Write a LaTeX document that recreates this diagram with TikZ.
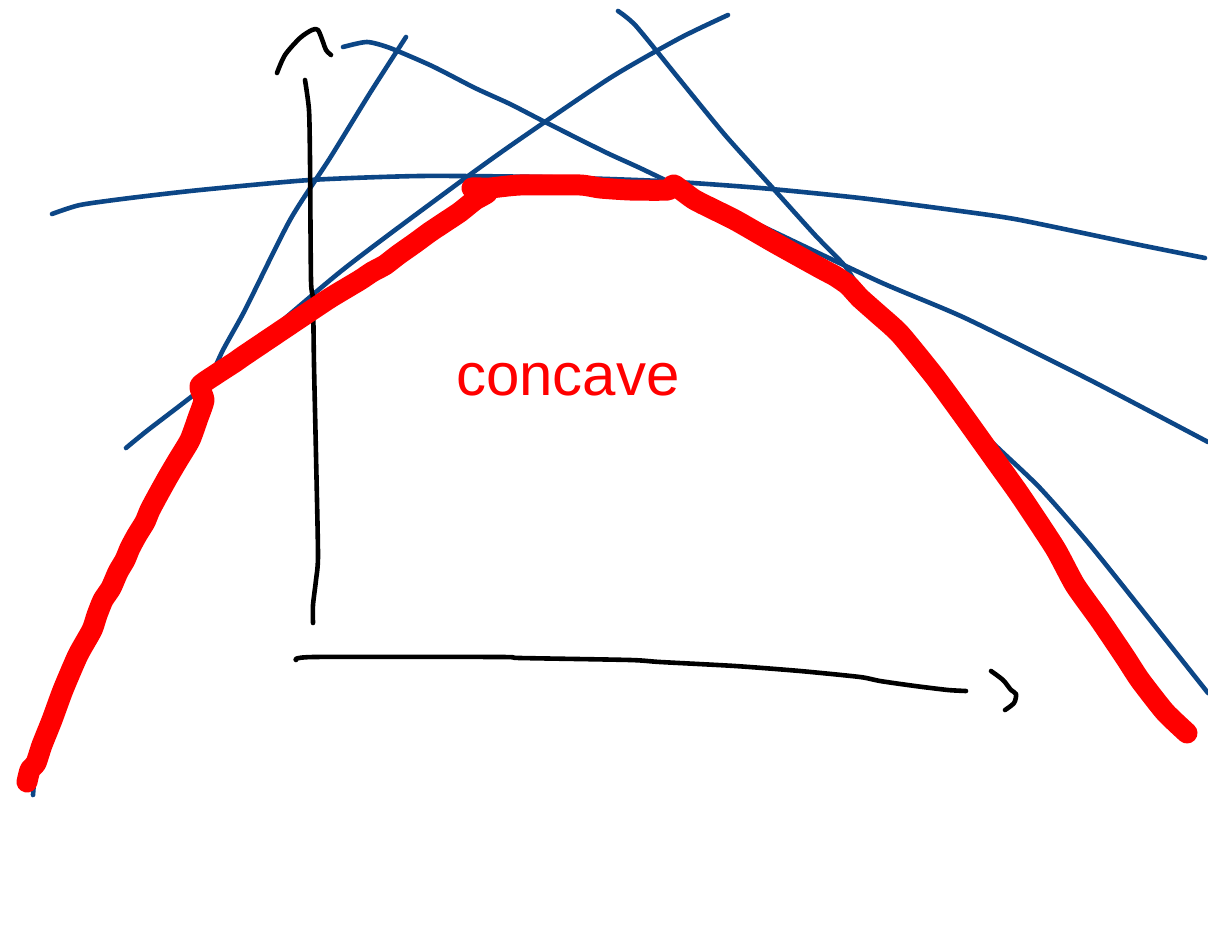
\documentclass[tikz,border=0pt]{standalone}
\usepackage{fontspec}
\setmainfont{Liberation Sans}
\definecolor{penblue}{RGB}{12,70,134}
\definecolor{penred}{RGB}{255,0,0}
\tikzset{
  bluestroke/.style={draw=penblue,line width=4.6pt,line cap=round,line join=round},
  blackstroke/.style={draw=black,line width=4.6pt,line cap=round,line join=round},
  redstroke/.style={draw=penred,line width=21pt,line cap=round,line join=round},
}
\begin{document}
\begin{tikzpicture}[x=1pt,y=-1pt]
\useasboundingbox[fill=white] (0,0) rectangle (1208,936);
% blue lines
\draw[bluestroke] plot[smooth,tension=0.4] coordinates {(406,37) (370,93) (330,158) (290,220) (245,310) (222,352) (205,392) (190,440) (168,477) (150,510) (137,535) (118,572) (103,600) (92,630) (78,655) (63,690) (45,740) (36,765) (33,795)};
\draw[bluestroke] plot[smooth,tension=0.4] coordinates {(126,448) (148,430) (215,378) (340,272) (445,193) (510,146) (610,78) (680,38) (728,15)};
\draw[bluestroke] plot[smooth,tension=0.4] coordinates {(343,47) (367,42) (390,48) (432,66) (475,88) (510,104) (545,122) (605,152) (640,168) (690,192) (770,230) (880,282) (965,318) (1090,380) (1208,442)};
\draw[bluestroke] plot[smooth,tension=0.4] coordinates {(52,214) (80,205) (130,198) (200,190) (310,180) (420,176) (540,177) (660,181) (760,188) (860,198) (960,211) (1020,220) (1140,245) (1205,258)};
\draw[bluestroke] plot[smooth,tension=0.4] coordinates {(618,11) (636,26) (680,80) (725,135) (770,185) (815,235) (845,266) (862,292) (900,334) (935,377) (963,414) (998,448) (1040,488) (1090,545) (1158,630) (1208,693)};
% axes
\draw[blackstroke] plot[smooth,tension=0.4] coordinates {(305,80) (309,110) (310,160) (311,280) (313,300) (314,365) (316,455) (318,555) (316,580) (313,605) (313,623)};
\draw[blackstroke] plot[smooth,tension=0.5] coordinates {(277,73) (285,55) (300,38) (312,30) (318,30) (323,42) (326,50) (331,55)};
\draw[blackstroke] plot[smooth,tension=0.4] coordinates {(296,660) (314,657) (500,657) (520,658) (630,660) (660,662) (735,666) (800,671) (860,677) (880,681) (915,686) (948,690) (966,691)};
\draw[blackstroke] plot[smooth,tension=0.5] coordinates {(991,671) (1003,680) (1011,690) (1016,694) (1014,703) (1005,710)};
% red concave curve
\draw[redstroke] plot[smooth,tension=0.35] coordinates {(27,782) (30,770) (36,763) (42,745) (52,720) (63,690) (78,655) (92,630) (97,615) (103,600) (111,588) (118,572) (125,560) (130,548) (137,535) (145,522) (150,510) (158,495) (168,477) (178,460) (190,440) (198,418) (204,400) (200,386) (215,375) (235,362) (245,355) (300,318) (330,298) (360,280) (372,272) (385,265) (398,255) (415,243) (430,232) (445,222) (460,212) (475,200) (488,192) (472,188) (490,188) (520,185) (580,185) (600,188) (630,190) (668,190) (674,185) (695,200) (735,220) (775,243) (820,268) (835,276) (848,285) (860,298) (878,314) (900,334) (935,377) (965,418) (995,460) (1020,495) (1055,548) (1075,585) (1100,620) (1125,657) (1140,680) (1165,712) (1187,733)};
% label
\node[text=penred,font=\fontsize{60}{66}\selectfont,inner sep=0pt] (label) at (568,380) {concave};
\end{tikzpicture}
\end{document}
